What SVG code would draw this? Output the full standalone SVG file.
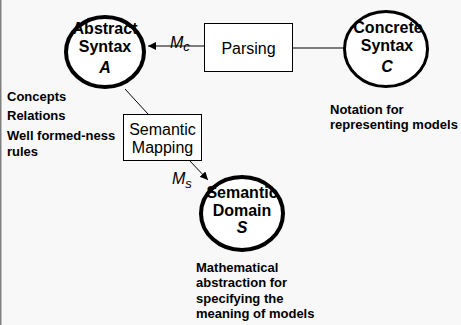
<svg xmlns="http://www.w3.org/2000/svg" width="461" height="325" viewBox="0 0 461 325">
  <defs>
    <marker id="arrow" viewBox="0 0 10 10" refX="10" refY="5" markerWidth="8" markerHeight="8" markerUnits="userSpaceOnUse" orient="auto">
      <path d="M0,0 L10,5 L0,10 z" fill="#000"/>
    </marker>
    <style>
      text { font-family: "Liberation Sans", Arial, sans-serif; fill: #000; }
      .node-title { font-size: 16px; font-weight: bold; text-anchor: middle; }
      .node-sym { font-size: 16px; font-weight: bold; font-style: italic; text-anchor: middle; }
      .box-label { font-size: 16px; text-anchor: middle; }
      .note { font-size: 13px; font-weight: bold; }
      .math { font-size: 16px; font-style: italic; }
      .sub { font-size: 13px; font-style: italic; }
      .circle { fill: #fff; stroke: #000; }
      .box { fill: #fff; stroke: #000; stroke-width: 1; }
      .edge { stroke: #000; stroke-width: 1; fill: none; }
    </style>
  </defs>

  <!-- page background with left rule -->
  <rect x="0" y="0" width="461" height="325" fill="#f8f8f8"/>
  <line x1="0.75" y1="0" x2="0.75" y2="325" stroke="#808080" stroke-width="1.5"/>

  <!-- connectors -->
  <g id="connectors">
    <line class="edge" x1="204" y1="46" x2="148" y2="46" marker-end="url(#arrow)"/>
    <line class="edge" x1="292" y1="48" x2="344" y2="48"/>
    <line class="edge" x1="125" y1="89" x2="148" y2="114"/>
    <line class="edge" x1="189" y1="160" x2="208" y2="180" marker-end="url(#arrow)"/>
    <text class="math" x="170" y="48">M<tspan class="sub" dy="3">c</tspan></text>
    <text class="math" x="172" y="184">M<tspan class="sub" dy="4">s</tspan></text>
  </g>

  <!-- Abstract Syntax -->
  <g id="abstract-syntax">
    <ellipse class="circle" cx="105" cy="52" rx="39" ry="35" stroke-width="4"/>
    <text class="node-title" x="105" y="34">Abstract</text>
    <text class="node-title" x="105" y="52">Syntax</text>
    <text class="node-sym" x="105" y="73">A</text>
  </g>

  <!-- Parsing -->
  <g id="parsing">
    <rect class="box" x="204.5" y="23.5" width="88" height="48"/>
    <text class="box-label" x="248.5" y="54">Parsing</text>
  </g>

  <!-- Concrete Syntax -->
  <g id="concrete-syntax">
    <ellipse class="circle" cx="386" cy="49" rx="41.5" ry="37.5" stroke-width="3"/>
    <text class="node-title" x="388" y="33">Concrete</text>
    <text class="node-title" x="387" y="51">Syntax</text>
    <text class="node-sym" x="387" y="72">C</text>
  </g>

  <!-- Semantic Mapping -->
  <g id="semantic-mapping">
    <rect class="box" x="123.5" y="114.5" width="78" height="46"/>
    <text class="box-label" x="162.5" y="134.5">Semantic</text>
    <text class="box-label" x="162.5" y="153">Mapping</text>
  </g>

  <!-- Semantic Domain -->
  <g id="semantic-domain">
    <ellipse class="circle" cx="242" cy="213.5" rx="41" ry="36.5" stroke-width="4"/>
    <text class="node-title" x="242" y="198">Semantic</text>
    <text class="node-title" x="242" y="216">Domain</text>
    <text class="node-sym" x="242" y="233">S</text>
  </g>

  <!-- annotations -->
  <g id="abstract-notes">
    <text class="note" x="7" y="101">Concepts</text>
    <text class="note" x="7" y="120">Relations</text>
    <text class="note" x="7" y="140">Well formed-ness</text>
    <text class="note" x="7" y="156">rules</text>
  </g>
  <g id="concrete-notes">
    <text class="note" x="330" y="114">Notation for</text>
    <text class="note" x="330" y="129">representing models</text>
  </g>
  <g id="domain-notes">
    <text class="note" x="196" y="272">Mathematical</text>
    <text class="note" x="196" y="287">abstraction for</text>
    <text class="note" x="196" y="303">specifying the</text>
    <text class="note" x="196" y="318">meaning of models</text>
  </g>
</svg>
